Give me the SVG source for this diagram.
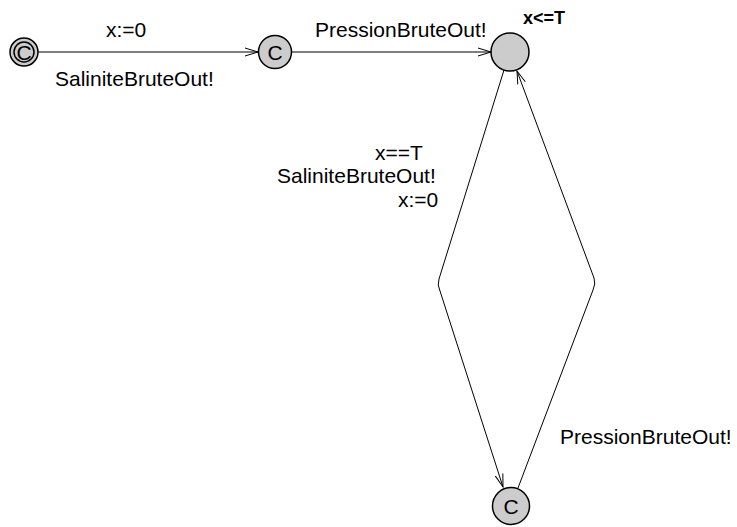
<svg xmlns="http://www.w3.org/2000/svg" width="737" height="527" viewBox="0 0 737 527">
<style>
.loc{fill:#cccccc;stroke:#000;stroke-width:1.5}
.edge{fill:none;stroke:#000;stroke-width:1}
.lbl{font-family:"Liberation Sans",Arial,sans-serif;font-size:21px;fill:#000}
.c{font-family:"Liberation Sans",Arial,sans-serif;font-size:21px;fill:#000;text-anchor:middle}
.inv{font-family:"Liberation Sans",Arial,sans-serif;font-size:18px;font-weight:bold;fill:#000}
</style>
<defs>
<marker id="arr" viewBox="0 0 14 10" refX="13" refY="5" markerWidth="14" markerHeight="10" markerUnits="userSpaceOnUse" orient="auto">
<path d="M0,1 L13,5 L0,9" fill="none" stroke="#000" stroke-width="1"/>
</marker>
</defs>
<g id="edges">
<line class="edge" x1="38" y1="52" x2="258" y2="52" marker-end="url(#arr)"/>
<line class="edge" x1="292" y1="52" x2="491" y2="52" marker-end="url(#arr)"/>
<path class="edge" d="M504,70 L439,279 Q437,285 440,291 L503,487" marker-end="url(#arr)"/>
<path class="edge" d="M518,488 L593,290 Q596,284 594,278 L517,71" marker-end="url(#arr)"/>
</g>
<g id="labels">
<text class="lbl" x="106" y="37">x:=0</text>
<text class="lbl" x="55" y="86">SaliniteBruteOut!</text>
<text class="lbl" x="315" y="37">PressionBruteOut!</text>
<text class="lbl" x="375" y="160">x==T</text>
<text class="lbl" x="277" y="183">SaliniteBruteOut!</text>
<text class="lbl" x="398" y="207">x:=0</text>
<text class="lbl" x="560" y="444">PressionBruteOut!</text>
</g>
<g id="n0">
<circle class="loc" cx="24" cy="52" r="14"/>
<circle fill="none" stroke="#000" stroke-width="1.5" cx="24" cy="52" r="10"/>
<text class="c" x="24" y="59.5">C</text>
</g>
<g id="n1">
<circle class="loc" cx="275" cy="52" r="16.5"/>
<text class="c" x="275" y="59.5">C</text>
</g>
<g id="n2">
<circle class="loc" cx="510" cy="52" r="19"/>
<text class="inv" x="523" y="24">x&lt;=T</text>
</g>
<g id="n3">
<circle class="loc" cx="511" cy="506" r="18.5"/>
<text class="c" x="511" y="513.5">C</text>
</g>
</svg>
